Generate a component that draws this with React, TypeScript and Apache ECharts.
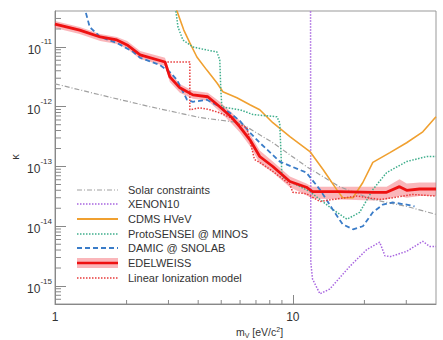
import React, { useEffect, useRef } from "react";
import * as echarts from "echarts";

// ---------- data ----------
const xLabelValues = [1, 10];
const yLabelValues = [1e-15, 1e-14, 1e-13, 1e-12, 1e-11];
const xMinorTicks = [2, 3, 4, 5, 6, 7, 8, 9, 20, 30];

const legendNames = [
  "Solar constraints",
  "XENON10",
  "CDMS HVeV",
  "ProtoSENSEI @ MINOS",
  "DAMIC @ SNOLAB",
  "EDELWEISS",
  "Linear Ionization model",
];

const solarMass = [1, 1.55, 2.51, 4.06, 5.99, 8.24, 11.4, 15.7, 21.7, 30.1, 40];
const solarKappa = [2.42e-12, 1.58e-12, 1.0e-12, 6.6e-13, 5.4e-13, 2.5e-13, 1.0e-13, 4.6e-14, 2.8e-14, 2.15e-14, 1.58e-14];

const xenonMass = [11.87, 11.9, 12.1, 13.0, 14.3, 17.4, 20.5, 23.2, 24.4, 25.7, 30.1, 35.2, 37.6, 40];
const xenonKappa = [1e-10, 2.5e-15, 1.31e-15, 7.4e-16, 8.9e-16, 2.15e-15, 4.1e-15, 5.4e-15, 3.2e-15, 3.1e-15, 3.8e-15, 5.6e-15, 4.6e-15, 4.6e-15];

const cdmsMass = [3.2, 3.25, 3.48, 3.69, 3.95, 4.35, 4.8, 5.08, 5.82, 6.6, 7.26, 8.24, 9.72, 11.8, 13.4, 15.3, 16.2, 17.9, 19.7, 21.7, 25.6, 30.1, 35.2, 40];
const cdmsKappa = [5e-11, 4.1e-11, 1.92e-11, 1.17e-11, 6.8e-12, 4.1e-12, 2.5e-12, 1.78e-12, 1.41e-12, 1.08e-12, 8.9e-13, 5.4e-13, 3.16e-13, 1.78e-13, 8.9e-14, 4.1e-14, 3.0e-14, 3.0e-14, 5.4e-14, 1.17e-13, 1.71e-13, 2.5e-13, 3.8e-13, 6.8e-13];

const protoMass = [3.19, 3.22, 3.29, 3.45, 3.8, 4.35, 4.79, 4.93, 4.98, 5.03, 5.28, 5.99, 6.8, 8.57, 8.81, 9.0, 9.72, 11.8, 14.7, 16.9, 19.1, 21.7, 24.8, 30.1, 36.6, 40];
const protoKappa = [5e-11, 4.1e-11, 2.15e-11, 1.31e-11, 1.0e-11, 8.9e-12, 8.3e-12, 6.1e-12, 1.92e-12, 1.0e-12, 9.6e-13, 8.9e-13, 7.4e-13, 6.8e-13, 5.4e-13, 6.8e-14, 5.6e-14, 3.8e-14, 1.92e-14, 1.31e-14, 1.71e-14, 4.1e-14, 7.9e-14, 1.21e-13, 1.47e-13, 1.47e-13];

const damicMass = [1.32, 1.34, 1.4, 1.55, 1.82, 2.13, 2.28, 2.76, 3.04, 3.26, 3.59, 3.8, 4.35, 4.93, 5.44, 5.99, 6.6, 7.26, 8.81, 11.4, 13.0, 14.7, 16.2, 17.9, 19.7, 21.7, 23.9, 26.3, 30.1, 32.5];
const damicKappa = [5e-11, 4.1e-11, 2.15e-11, 1.47e-11, 1.17e-11, 8.3e-12, 6.6e-12, 5.0e-12, 3.8e-12, 2.8e-12, 1.31e-12, 1.21e-12, 1.31e-12, 1.0e-12, 7.9e-13, 5.8e-13, 3.7e-13, 2.5e-13, 1.21e-13, 7.9e-14, 4.1e-14, 1.92e-14, 1.08e-14, 8.9e-15, 1.0e-14, 1.71e-14, 2.3e-14, 2.5e-14, 2.3e-14, 2.15e-14];

const edelMass = [1.0, 1.27, 1.55, 1.82, 2.01, 2.28, 2.9, 3.04, 3.35, 3.8, 4.39, 4.93, 5.54, 5.99, 6.6, 7.26, 8.24, 9.72, 11.4, 12.1, 15.7, 21.7, 24.8, 28.1, 30.1, 34.1, 40];
const edelKappa = [2.42e-11, 1.92e-11, 1.47e-11, 1.31e-11, 1.08e-11, 7.4e-12, 5.6e-12, 3.16e-12, 2.07e-12, 1.58e-12, 1.47e-12, 1.0e-12, 6.6e-13, 4.6e-13, 2.8e-13, 1.47e-13, 1.0e-13, 5.6e-14, 4.5e-14, 3.8e-14, 3.8e-14, 3.7e-14, 3.7e-14, 4.6e-14, 4.0e-14, 4.2e-14, 4.2e-14];
const edelHigh = [2.71e-11, 2.15e-11, 1.65e-11, 1.47e-11, 1.26e-11, 8.6e-12, 6.6e-12, 3.8e-12, 2.4e-12, 1.85e-12, 1.71e-12, 1.21e-12, 7.9e-13, 5.8e-13, 3.5e-13, 1.85e-13, 1.21e-13, 6.8e-14, 5.2e-14, 4.6e-14, 4.6e-14, 4.6e-14, 4.6e-14, 6.1e-14, 5.2e-14, 5.4e-14, 5.4e-14];
const edelLow = [2.07e-11, 1.65e-11, 1.26e-11, 1.12e-11, 9.3e-12, 6.3e-12, 4.8e-12, 2.6e-12, 1.71e-12, 1.36e-12, 1.26e-12, 8.3e-13, 5.2e-13, 3.7e-13, 2.2e-13, 1.12e-13, 7.9e-14, 4.5e-14, 3.3e-14, 2.9e-14, 2.8e-14, 2.7e-14, 2.8e-14, 3.2e-14, 3.0e-14, 3.2e-14, 3.2e-14];

const linMass = [1.0, 1.27, 1.55, 1.82, 2.01, 2.28, 2.9, 3.69, 3.69, 4.07, 4.48, 4.93, 5.44, 5.99, 6.4, 6.9, 7.26, 8.24, 9.72, 10.0, 11.4, 13.0, 14.7, 18.6, 23.2, 26.3, 31.9, 40];
const linKappa = [2.42e-11, 1.92e-11, 1.47e-11, 1.31e-11, 1.08e-11, 7.4e-12, 5.6e-12, 5.6e-12, 8.9e-13, 9.6e-13, 8.9e-13, 7.9e-13, 6.6e-13, 5.0e-13, 4.5e-13, 1.31e-13, 1.17e-13, 8.3e-14, 5.0e-14, 3.7e-14, 3.5e-14, 2.6e-14, 2.8e-14, 3.2e-14, 2.8e-14, 3.0e-14, 3.4e-14, 3.2e-14];

// ---------- axis ranges ----------
const X_MIN = 1;
const X_MAX = 40;
const Y_MIN = 5e-16;
const Y_MAX = 4e-11;

const yMinorTicks: number[] = [];
for (let e = -16; e <= -11; e++) {
  for (let k = 2; k <= 9; k++) {
    const v = k * Math.pow(10, e);
    if (v > Y_MIN && v < Y_MAX) yMinorTicks.push(v);
  }
}

const FONT = "'Liberation Sans', Arial, Helvetica, sans-serif";
const TEXT = "#333";
const AXIS = "#888";

const C_SOLAR = "#a0a0a0";
const C_XENON = "#a865e0";
const C_CDMS = "#f0a030";
const C_PROTO = "#3fae8c";
const C_DAMIC = "#3a7cc8";
const C_EDEL = "#ee1111";
const C_BAND = "rgba(242,80,90,0.42)";
const C_LIN = "#e83a3a";

const zip = (xs: number[], ys: number[]) => xs.map((x, i) => [x, ys[i]]);

function isPow10(v: number) {
  const l = Math.log10(v);
  return Math.abs(l - Math.round(l)) < 0.01;
}

export default function App() {
  const ref = useRef<HTMLDivElement>(null);

  useEffect(() => {
    if (!ref.current) return;
    const chart = echarts.init(ref.current, null, { renderer: "svg" });

    const lineSeries = (name: string, xs: number[], ys: number[], color: string, width: number, type: any, z: number) => ({
      name,
      type: "line",
      data: zip(xs, ys),
      showSymbol: false,
      symbol: "none",
      silent: true,
      clip: true,
      z,
      lineStyle: { color, width, type },
    });

    const legendRows = [190, 204, 219, 234, 248, 263, 278];
    const lx1 = 77;
    const lx2 = 118;
    const legendLine = (y: number, stroke: string, lineWidth: number, lineDash: any) => ({
      type: "line",
      shape: { x1: lx1, y1: y, x2: lx2, y2: y },
      style: { stroke, lineWidth, lineDash },
      silent: true,
    });
    const legendStyles = [
      { stroke: C_SOLAR, w: 1.2, dash: [5, 2, 1, 2] },
      { stroke: C_XENON, w: 1.5, dash: [1.5, 1.5] },
      { stroke: C_CDMS, w: 1.8, dash: null },
      { stroke: C_PROTO, w: 1.5, dash: [1.5, 1.5] },
      { stroke: C_DAMIC, w: 1.8, dash: [5, 3] },
      { stroke: C_EDEL, w: 2.5, dash: null },
      { stroke: C_LIN, w: 1.5, dash: [1.5, 1.5] },
    ];
    const legendGraphics: any[] = [];
    legendNames.forEach((name, i) => {
      const y = legendRows[i];
      const s = legendStyles[i];
      if (i === 5) {
        legendGraphics.push({
          type: "rect",
          shape: { x: lx1, y: y - 5, width: lx2 - lx1, height: 10 },
          style: { fill: C_BAND },
          silent: true,
        });
      }
      legendGraphics.push(legendLine(y, s.stroke, s.w, s.dash));
      legendGraphics.push({
        type: "text",
        x: 128,
        y,
        silent: true,
        style: { text: name, fontSize: 11, fontFamily: FONT, fill: TEXT, align: "left", verticalAlign: "middle" },
      });
    });

    const option: any = {
      animation: false,
      grid: { left: 55, right: 7, top: 11, bottom: 36, show: true, borderColor: "#999", borderWidth: 1 },
      xAxis: {
        type: "log",
        logBase: 10,
        min: X_MIN,
        max: X_MAX,
        axisLine: { show: true, lineStyle: { color: AXIS } },
        axisTick: { show: true, inside: true, length: 9, lineStyle: { color: AXIS } },
        splitLine: { show: false },
        axisLabel: {
          show: true,
          showMinLabel: true,
          showMaxLabel: false,
          margin: 7,
          fontSize: 12,
          fontFamily: FONT,
          color: TEXT,
          formatter: (v: number) => (xLabelValues.some((t) => Math.abs(t - v) < 1e-6 * t) ? String(Math.round(v)) : ""),
        },
      },
      yAxis: {
        type: "log",
        logBase: 10,
        min: Y_MIN,
        max: Y_MAX,
        axisLine: { show: true, lineStyle: { color: AXIS } },
        axisTick: { show: true, inside: true, length: 11, lineStyle: { color: AXIS } },
        splitLine: { show: false },
        axisLabel: {
          show: true,
          showMinLabel: false,
          showMaxLabel: false,
          margin: 3,
          fontFamily: FONT,
          color: TEXT,
          formatter: (v: number) => {
            if (!isPow10(v)) return "";
            const e = Math.round(Math.log10(v));
            if (!yLabelValues.some((t) => Math.round(Math.log10(t)) === e)) return "";
            return `{b|10}{s|${e}}`;
          },
          rich: {
            b: { fontSize: 12, lineHeight: 18, verticalAlign: "bottom", fontFamily: FONT, color: TEXT },
            s: { fontSize: 8, lineHeight: 11, verticalAlign: "top", fontFamily: FONT, color: TEXT },
          },
        },
      },
      series: [
        {
          type: "custom",
          silent: true,
          z: 1,
          data: [[edelMass[0], edelKappa[0]]],
          renderItem: (_params: any, api: any) => {
            const pts: number[][] = [];
            for (let i = 0; i < edelMass.length; i++) pts.push(api.coord([edelMass[i], edelHigh[i]]));
            for (let i = edelMass.length - 1; i >= 0; i--) pts.push(api.coord([edelMass[i], edelLow[i]]));
            return { type: "polygon", shape: { points: pts }, style: { fill: C_BAND, stroke: null } };
          },
        },
        lineSeries("Solar constraints", solarMass, solarKappa, C_SOLAR, 1.2, [5, 2, 1, 2], 2),
        lineSeries("XENON10", xenonMass, xenonKappa, C_XENON, 1.5, [1.5, 1.5], 3),
        lineSeries("CDMS HVeV", cdmsMass, cdmsKappa, C_CDMS, 1.6, "solid", 3),
        lineSeries("ProtoSENSEI @ MINOS", protoMass, protoKappa, C_PROTO, 1.5, [1.5, 1.5], 3),
        lineSeries("DAMIC @ SNOLAB", damicMass, damicKappa, C_DAMIC, 1.8, [5, 3], 3),
        lineSeries("Linear Ionization model", linMass, linKappa, C_LIN, 1.5, [1.5, 1.5], 4),
        lineSeries("EDELWEISS", edelMass, edelKappa, C_EDEL, 2.8, "solid", 5),
        {
          type: "custom",
          silent: true,
          z: 6,
          data: xMinorTicks.map((v) => [v, Y_MIN]),
          renderItem: (_p: any, api: any) => {
            const p = api.coord([api.value(0), api.value(1)]);
            return { type: "line", shape: { x1: p[0], y1: p[1], x2: p[0], y2: p[1] - 4 }, style: { stroke: AXIS, lineWidth: 1 } };
          },
        },
        {
          type: "custom",
          silent: true,
          z: 6,
          data: yMinorTicks.map((v) => [X_MIN, v]),
          renderItem: (_p: any, api: any) => {
            const p = api.coord([api.value(0), api.value(1)]);
            return { type: "line", shape: { x1: p[0], y1: p[1], x2: p[0] + 6, y2: p[1] }, style: { stroke: AXIS, lineWidth: 1 } };
          },
        },
      ],
      graphic: [
        ...legendGraphics,
        {
          type: "text",
          x: 236,
          y: 332,
          silent: true,
          style: {
            text: "{n|m}{sub|V}{n| [eV/c}{sup|2}{n|]}",
            verticalAlign: "middle",
            align: "left",
            rich: {
              n: { fontSize: 10.5, lineHeight: 13, fontFamily: FONT, fill: TEXT, verticalAlign: "middle" },
              sub: { fontSize: 7, lineHeight: 8, fontFamily: FONT, fill: TEXT, verticalAlign: "bottom" },
              sup: { fontSize: 7, lineHeight: 8, fontFamily: FONT, fill: TEXT, verticalAlign: "top" },
            },
          },
        },
        {
          type: "text",
          x: 15,
          y: 157,
          rotation: Math.PI / 2,
          silent: true,
          style: { text: "κ", fontSize: 11, fontFamily: FONT, fill: TEXT, align: "center", verticalAlign: "middle" },
        },
      ],
    };

    chart.setOption(option);
    return () => chart.dispose();
  }, []);

  return <div ref={ref} style={{ position: "absolute", left: 0, top: 0, width: 443, height: 340 }} />;
}
